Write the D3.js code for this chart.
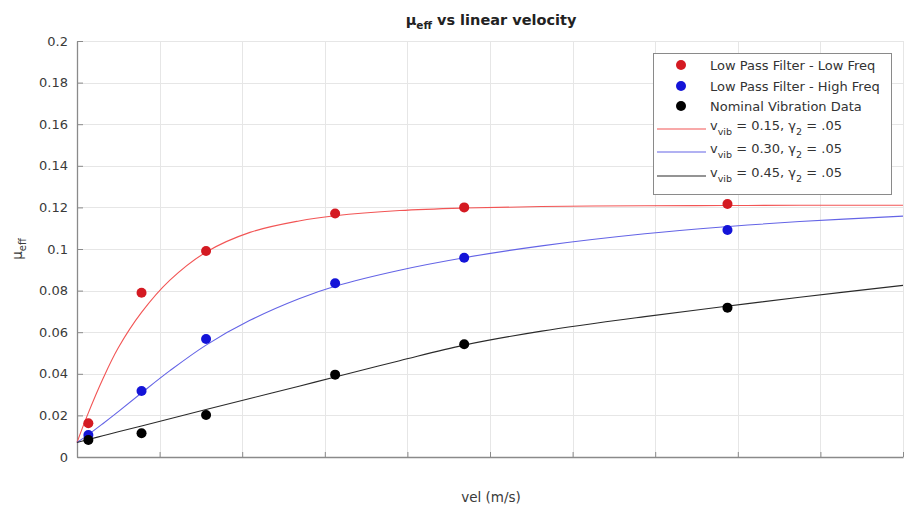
<!DOCTYPE html>
<html>
<head>
<meta charset="utf-8">
<script src="https://cdn.jsdelivr.net/npm/d3@7"></script>
<style>
  html, body { margin: 0; padding: 0; background: #fff; }
  svg { display: block; font-family: "DejaVu Sans", "Liberation Sans", sans-serif; }
</style>
</head>
<body>
<svg id="chart" width="904" height="508"></svg>
<script>
// Measured velocities (m/s)
const velocities = [0.022, 0.125, 0.25, 0.5, 0.75, 1.26];

// Effective friction per data set
const lowFreq     = [0.0162, 0.0790, 0.0990, 0.1171, 0.1200, 0.1216];
const highFreq    = [0.0106, 0.0317, 0.0567, 0.0835, 0.0958, 0.1091];
const nominalData = [0.0082, 0.0114, 0.0202, 0.0396, 0.0542, 0.0718];

// Model curves sampled along velocity
const curveVel  = [0, 0.02, 0.05, 0.08, 0.125, 0.18, 0.25, 0.335, 0.43, 0.5, 0.625, 0.75, 0.9, 1.1, 1.25, 1.4, 1.6];
const model015  = [0.007, 0.020, 0.0375, 0.0525, 0.0695, 0.085, 0.0985, 0.108, 0.1135, 0.116, 0.1185, 0.1197, 0.1204, 0.1208, 0.1209, 0.121, 0.121];
const model030  = [0.007, 0.0104, 0.0160, 0.0218, 0.0308, 0.0415, 0.0538, 0.0657, 0.0761, 0.0821, 0.0898, 0.0958, 0.1015, 0.1073, 0.1106, 0.1132, 0.1158];
const model045  = [0.007, 0.0083, 0.0102, 0.0121, 0.0149, 0.0184, 0.0228, 0.0281, 0.034, 0.0385, 0.0463, 0.0538, 0.0605, 0.0675, 0.0722, 0.0768, 0.0825];

const yTicks = [0, 0.02, 0.04, 0.06, 0.08, 0.1, 0.12, 0.14, 0.16, 0.18, 0.2];
const yTickLabels = ["0", "0.02", "0.04", "0.06", "0.08", "0.1", "0.12", "0.14", "0.16", "0.18", "0.2"];
const xTicks = d3.range(0, 1.6001, 0.16);

const scatterSeries = [
  { name: "Low Pass Filter - Low Freq",  values: lowFreq,     color: "#d41a22" },
  { name: "Low Pass Filter - High Freq", values: highFreq,    color: "#1414d8" },
  { name: "Nominal Vibration Data",      values: nominalData, color: "#000000" }
];
const lineSeries = [
  { vib: "0.15", values: model015, color: "#f25555" },
  { vib: "0.30", values: model030, color: "#6464e6" },
  { vib: "0.45", values: model045, color: "#2a2a2a" }
];

const svg = d3.select("#chart");
const plot = { left: 77, right: 903, top: 41, bottom: 457 };

const x = d3.scaleLinear().domain([0, 1.6]).range([plot.left, plot.right]);
const y = d3.scaleLinear().domain([0, 0.2]).range([plot.bottom, plot.top]);

// Grid
const grid = svg.append("g").attr("stroke", "#e6e6e6").attr("stroke-width", 1);
grid.selectAll("line.gy").data(yTicks).join("line")
  .attr("x1", plot.left).attr("x2", plot.right)
  .attr("y1", d => Math.round(y(d)) + 0.5).attr("y2", d => Math.round(y(d)) + 0.5);
grid.selectAll("line.gx").data(xTicks).join("line")
  .attr("y1", plot.top).attr("y2", plot.bottom)
  .attr("x1", d => Math.round(x(d)) + 0.5).attr("x2", d => Math.round(x(d)) + 0.5);

// Axes with inward ticks
const yAxis = svg.append("g")
  .attr("transform", `translate(${plot.left},0)`)
  .call(d3.axisLeft(y).tickValues(yTicks)
    .tickFormat((d, i) => yTickLabels[i])
    .tickSizeInner(-6).tickSizeOuter(0).tickPadding(9));
yAxis.selectAll("text").attr("font-size", 13).attr("fill", "#3a3a3a")
  .attr("font-family", "DejaVu Sans, sans-serif");

const xAxis = svg.append("g")
  .attr("transform", `translate(0,${plot.bottom})`)
  .call(d3.axisBottom(x).tickValues(xTicks).tickFormat("")
    .tickSizeInner(-5).tickSizeOuter(0));

[yAxis, xAxis].forEach(g => {
  g.select(".domain").attr("stroke", "#8a8a8a").attr("stroke-width", 1.3);
  g.selectAll(".tick line").attr("stroke", "#8a8a8a").attr("stroke-width", 1);
});

// Model curves
const line = d3.line()
  .x((d, i) => x(curveVel[i]))
  .y(d => y(d))
  .curve(d3.curveCatmullRom.alpha(0.5));
svg.append("g").selectAll("path").data(lineSeries).join("path")
  .attr("d", d => line(d.values))
  .attr("fill", "none")
  .attr("stroke", d => d.color)
  .attr("stroke-width", 1.1);

// Data markers
scatterSeries.forEach(s => {
  svg.append("g").selectAll("circle").data(s.values).join("circle")
    .attr("cx", (d, i) => x(velocities[i]))
    .attr("cy", d => y(d))
    .attr("r", 5)
    .attr("fill", s.color);
});

// Title
const title = svg.append("text")
  .attr("x", 491).attr("y", 25)
  .attr("text-anchor", "middle")
  .attr("font-size", 14.5).attr("font-weight", "bold").attr("fill", "#222");
title.append("tspan").text("μ");
title.append("tspan").attr("font-size", 10.5).attr("dy", 4).text("eff");
title.append("tspan").attr("dy", -4).text(" vs linear velocity");

// Axis labels
svg.append("text")
  .attr("x", 491).attr("y", 502)
  .attr("text-anchor", "middle")
  .attr("font-size", 13.5).attr("fill", "#3a3a3a")
  .text("vel (m/s)");

const yl = svg.append("text")
  .attr("transform", "translate(22,249) rotate(-90)")
  .attr("text-anchor", "middle")
  .attr("font-size", 13.5).attr("fill", "#3a3a3a");
yl.append("tspan").text("μ");
yl.append("tspan").attr("font-size", 10).attr("dy", 4).text("eff");

// Legend
const legend = svg.append("g");
legend.append("rect")
  .attr("x", 653.5).attr("y", 53.5).attr("width", 238).attr("height", 141)
  .attr("fill", "#fff").attr("stroke", "#8a8a8a").attr("stroke-width", 1);

const rowY = [65, 86, 106, 129, 152, 176];
scatterSeries.forEach((s, i) => {
  legend.append("circle").attr("cx", 681).attr("cy", rowY[i]).attr("r", 5).attr("fill", s.color);
  legend.append("text").attr("x", 710).attr("y", rowY[i] + 4.5)
    .attr("font-size", 13).attr("fill", "#333").text(s.name);
});
lineSeries.forEach((s, i) => {
  const yy = rowY[i + 3];
  legend.append("line").attr("x1", 657).attr("x2", 706)
    .attr("y1", yy).attr("y2", yy)
    .attr("stroke", s.color).attr("stroke-width", 1.1);
  const t = legend.append("text").attr("x", 710).attr("y", yy + 1)
    .attr("font-size", 13).attr("fill", "#333");
  t.append("tspan").text("v");
  t.append("tspan").attr("font-size", 9.5).attr("dy", 5).text("vib");
  t.append("tspan").attr("dy", -5).text(` = ${s.vib}, γ`);
  t.append("tspan").attr("font-size", 9.5).attr("dy", 5).text("2");
  t.append("tspan").attr("dy", -5).text(" = .05");
});
</script>
</body>
</html>
